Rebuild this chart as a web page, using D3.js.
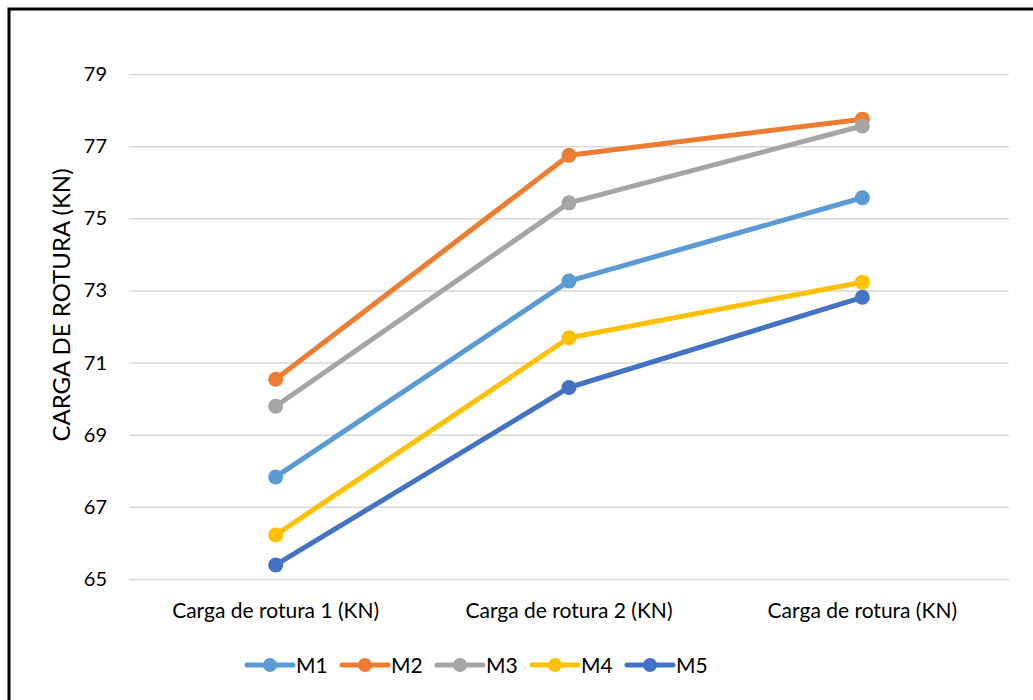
<!DOCTYPE html>
<html>
<head>
<meta charset="utf-8">
<script src="https://cdn.jsdelivr.net/npm/d3@7"></script>
<style>
  body { margin: 0; background: #fff; }
  svg { display: block; font-family: Lato, "Open Sans", sans-serif; }
</style>
</head>
<body>
<div id="container"></div>
<script>
const categories = ["Carga de rotura 1 (KN)", "Carga de rotura 2 (KN)", "Carga de rotura (KN)"];
const seriesNames = ["M1", "M2", "M3", "M4", "M5"];
const m1 = [67.83, 73.26, 75.57];
const m2 = [70.54, 76.75, 77.75];
const m3 = [69.79, 75.43, 77.56];
const m4 = [66.22, 71.69, 73.23];
const m5 = [65.39, 70.31, 72.81];
const yTicks = [65, 67, 69, 71, 73, 75, 77, 79];
const colors = ["#5B9BD5", "#ED7D31", "#A5A5A5", "#FFC000", "#4472C4"];

const main = (container) => {
    const width = 1033, height = 700;
    const plot = { left: 129, right: 1009, top: 38, bottom: 579 };
    const series = [m1, m2, m3, m4, m5].map((values, i) => ({
        name: seriesNames[i],
        color: colors[i],
        values: values.map((v, j) => ({ cat: categories[j], value: v }))
    }));

    const svg = d3.select(container)
        .append("svg")
        .attr("width", width)
        .attr("height", height);

    svg.append("rect")
        .attr("width", width)
        .attr("height", height)
        .attr("fill", "#fff");

    // outer frame (right and bottom edges fall outside the picture)
    svg.append("rect")
        .attr("x", 9)
        .attr("y", 9)
        .attr("width", 1040)
        .attr("height", 720)
        .attr("fill", "none")
        .attr("stroke", "#000")
        .attr("stroke-width", 3);

    const xScale = d3.scalePoint()
        .domain(categories)
        .range([plot.left, plot.right])
        .padding(0.5);

    const yScale = d3.scaleLinear()
        .domain([65, 80])
        .range([plot.bottom, plot.top]);

    const yAxis = svg.append("g")
        .attr("transform", `translate(${plot.left},0)`)
        .call(d3.axisLeft(yScale)
            .tickValues(yTicks)
            .tickSize(-(plot.right - plot.left))
            .tickPadding(22)
            .tickFormat(d3.format("d")));
    yAxis.select(".domain").remove();
    yAxis.selectAll(".tick line")
        .attr("stroke", "#D9D9D9")
        .attr("stroke-width", 1.5);
    yAxis.selectAll(".tick text")
        .attr("fill", "#000")
        .style("font-size", "20px")
        .style("font-family", "Lato, sans-serif");

    svg.append("g")
        .selectAll("text")
        .data(categories)
        .join("text")
        .attr("x", d => xScale(d))
        .attr("y", 618)
        .attr("text-anchor", "middle")
        .style("font-size", "21px")
        .text(d => d);

    svg.append("text")
        .attr("transform", "translate(70,305) rotate(-90)")
        .attr("text-anchor", "middle")
        .style("font-size", "24px")
        .text("CARGA DE ROTURA (KN)");

    const line = d3.line()
        .x(d => xScale(d.cat))
        .y(d => yScale(d.value));

    series.forEach(s => {
        svg.append("path")
            .datum(s.values)
            .attr("d", line)
            .attr("fill", "none")
            .attr("stroke", s.color)
            .attr("stroke-width", 5)
            .attr("stroke-linecap", "round")
            .attr("stroke-linejoin", "round");

        svg.append("g")
            .selectAll("circle")
            .data(s.values)
            .join("circle")
            .attr("cx", d => xScale(d.cat))
            .attr("cy", d => yScale(d.value))
            .attr("r", 7.5)
            .attr("fill", s.color);
    });

    const legend = svg.append("g")
        .attr("transform", "translate(247,665)");

    series.forEach((s, i) => {
        const g = legend.append("g")
            .attr("transform", `translate(${i * 95},0)`);
        g.append("line")
            .attr("x1", 0)
            .attr("x2", 46)
            .attr("stroke", s.color)
            .attr("stroke-width", 5)
            .attr("stroke-linecap", "round");
        g.append("circle")
            .attr("cx", 23)
            .attr("r", 7)
            .attr("fill", s.color);
        g.append("text")
            .attr("x", 49)
            .attr("y", 8)
            .style("font-size", "21px")
            .text(s.name);
    });
}

const container = document.getElementById("container");
main(container);
</script>
</body>
</html>
